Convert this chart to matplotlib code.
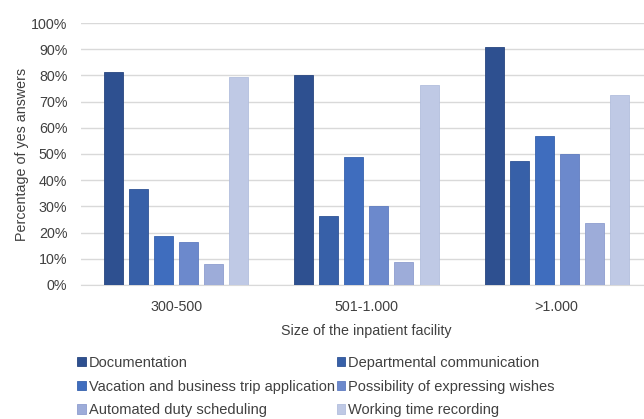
import numpy as np
import matplotlib.pyplot as plt
from matplotlib.ticker import PercentFormatter

plt.rcParams['font.family'] = ['Liberation Sans', 'DejaVu Sans']

sizes = ['300-500', '501-1.000', '>1.000']
features = ['Documentation', 'Departmental communication',
            'Vacation and business trip application', 'Possibility of expressing wishes',
            'Automated duty scheduling', 'Working time recording']

documentation = [81.4, 80.1, 90.9]
departmental = [36.5, 26.4, 47.5]
vacation = [18.5, 48.8, 57.0]
wishes = [16.5, 30.1, 50.0]
duty = [7.9, 8.6, 23.5]
working_time = [79.4, 76.5, 72.6]

series = [documentation, departmental, vacation, wishes, duty, working_time]
colors = ['#2E5090', '#3760A8', '#3F6DBE', '#6C89CC', '#9DACD9', '#BFC9E5']
edges = ['#284680', '#2F5496', '#3662AE', '#5F7CC0', '#8E9ECF', '#B2BEDD']

fig = plt.figure(figsize=(6.44, 4.19), dpi=100)
ax = fig.add_axes([0.126, 0.32, 0.886, 0.625])

x = np.arange(len(sizes))
step = 0.1316
bars = []
for i, vals in enumerate(series):
    b = ax.bar(x + (i - 2.5) * step, vals, width=0.1, color=colors[i],
               edgecolor=edges[i], linewidth=0.6, label=features[i], zorder=3)
    bars.append(b)

ax.set_xlim(-0.5, 2.5)
ax.set_ylim(0, 100)
ax.set_yticks(np.arange(0, 101, 10))
ax.yaxis.set_major_formatter(PercentFormatter(decimals=0))
ax.set_xticks(x)
ax.set_xticklabels(sizes)
ax.grid(axis='y', color='#D9D9D9', linewidth=1, zorder=0)
for s in ['top', 'right', 'left']:
    ax.spines[s].set_visible(False)
ax.spines['bottom'].set_color('#D9D9D9')
ax.tick_params(length=0, labelsize=10.3, colors='#404040')
ax.tick_params(axis='x', pad=11)
ax.tick_params(axis='y', pad=10)

ax.set_xlabel('Size of the inpatient facility', fontsize=10.3, color='#404040', labelpad=7)
ax.set_ylabel('Percentage of yes answers', fontsize=10.3, color='#404040', labelpad=1)

order = [0, 2, 4, 1, 3, 5]
fig.legend([bars[i] for i in order], [features[i] for i in order], ncol=2,
           loc='upper left', bbox_to_anchor=(0.108, 0.168), frameon=False,
           fontsize=10.5, handlelength=0.6, handleheight=0.6, handletextpad=0.2,
           columnspacing=0.15, labelspacing=0.66, borderpad=0, labelcolor='#404040')

fig.savefig('out.png', dpi=100)
